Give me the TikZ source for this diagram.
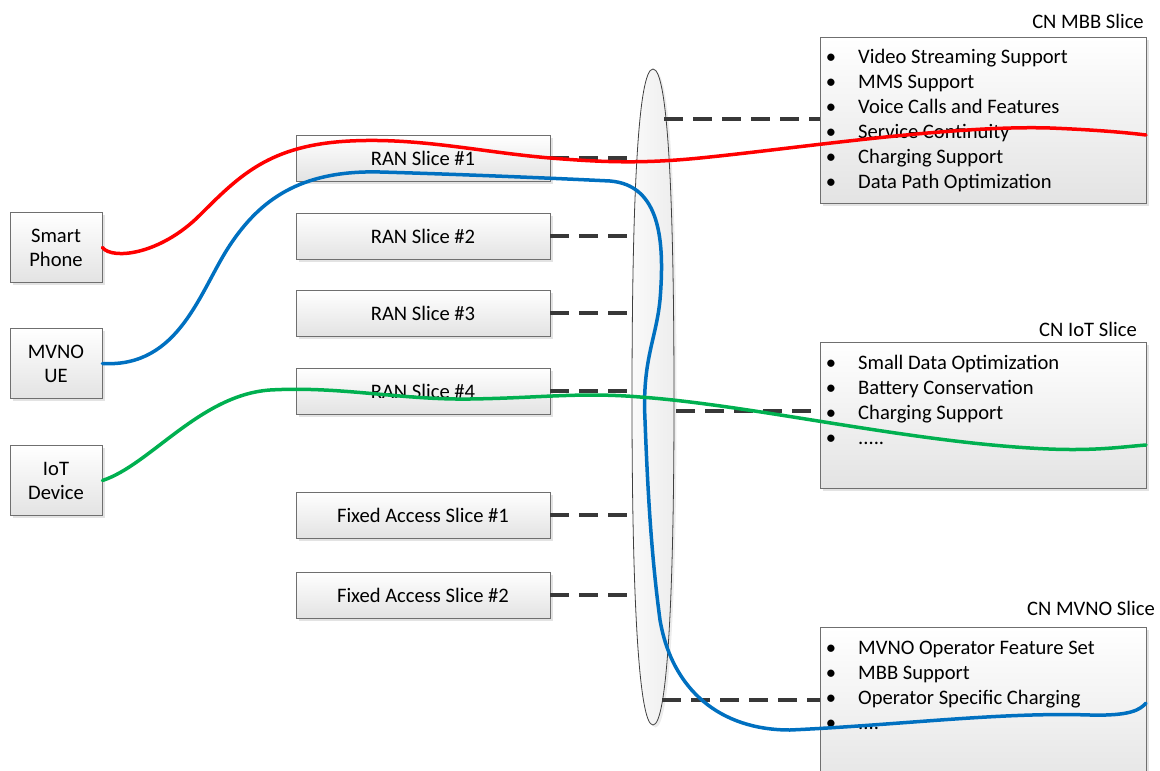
\documentclass[tikz,border=0pt]{standalone}
\usepackage{fontspec}
\setmainfont{Carlito}
\usetikzlibrary{shadows}
\definecolor{myred}{HTML}{FF0000}
\definecolor{myblue}{HTML}{0070C0}
\definecolor{mygreen}{HTML}{00B050}
\definecolor{dashgray}{HTML}{383838}
\definecolor{boxline}{HTML}{6F6F6F}
\newcommand\fivedots{.....}
\newcommand\fourdots{....}
\begin{document}
\begin{tikzpicture}[x=1pt,y=-1pt,font=\fontsize{20.6}{24}\selectfont,
  box/.style={draw=boxline,line width=0.9pt,top color=white,bottom color=gray!22,
    drop shadow={opacity=0.22,shadow xshift=2.5pt,shadow yshift=-2.5pt},
    inner sep=0pt,align=center},
  devbox/.style={box,minimum width=92pt,minimum height=70pt},
  slicebox/.style={box,minimum width=254pt,minimum height=46pt},
  cnbox/.style={box,minimum width=326pt,anchor=north west},
  link/.style={draw=dashgray,line width=3.1pt,dash pattern=on 19pt off 10pt},
  flow/.style={line width=3.5pt,line cap=round},
  item/.style={anchor=base west,inner sep=0pt},
  bul/.style={anchor=base,inner sep=0pt},
  lbl/.style={inner sep=0pt}]
\useasboundingbox (0,0) rectangle (1160,771);

% devices
\node[devbox] (sp) at (56,247.5) {Smart\\Phone};
\node[devbox] (ue) at (56,363.5) {MVNO\\UE};
\node[devbox] (iot) at (56,480.5) {IoT\\Device};

% access slices
\node[slicebox] (r1) at (423,158) {RAN Slice \#1};
\node[slicebox] (r2) at (423,236) {RAN Slice \#2};
\node[slicebox] (r3) at (423,313) {RAN Slice \#3};
\node[slicebox] (r4) at (423,391) {RAN Slice \#4};
\node[slicebox] (f1) at (423,515) {Fixed Access Slice \#1};
\node[slicebox] (f2) at (423,595) {Fixed Access Slice \#2};

% core slices
\node[cnbox,minimum height=166pt] (mbb) at (820,37) {};
\node[cnbox,minimum height=146pt] (ciot) at (820,342) {};
\node[cnbox,minimum height=170pt] (mvno) at (820,627) {};
\node[lbl] (mbbl) at (1088,21) {CN MBB Slice};
\node[lbl] (iotl) at (1088,329) {CN IoT Slice};
\node[lbl] (mvnol) at (1091,608) {CN MVNO Slice};

\foreach \t [count=\i] in {Video Streaming Support,MMS Support,Voice Calls and Features,Service Continuity,Charging Support,Data Path Optimization}{
  \node[bul] (mbbb\i) at (831,{56+25*(\i-1)+7}) {•};
  \node[item] (mbbt\i) at (858,{56+25*(\i-1)+7}) {\t};
}
\foreach \t [count=\i] in {Small Data Optimization,Battery Conservation,Charging Support,\fivedots}{
  \node[bul] (iotb\i) at (831,{362+25*(\i-1)+7}) {•};
  \node[item] (iott\i) at (858,{362+25*(\i-1)+7}) {\t};
}
\foreach \t [count=\i] in {MVNO Operator Feature Set,MBB Support,Operator Specific Charging,\fourdots}{
  \node[bul] (mvnob\i) at (831,{647+25*(\i-1)+7}) {•};
  \node[item] (mvnot\i) at (858,{647+25*(\i-1)+7}) {\t};
}

% transport ellipse
\fill[gray!25,opacity=0.6] (655.5,71.5) .. controls (670.5,71.5) and (676.5,202) .. (676.5,402)
  .. controls (676.5,602) and (669.5,727.5) .. (655.5,727.5)
  .. controls (641.5,727.5) and (634.5,602) .. (634.5,402)
  .. controls (634.5,202) and (640.5,71.5) .. (655.5,71.5) -- cycle;
\draw[draw=black!75,line width=0.8pt,left color=gray!4,right color=gray!14]
  (653,69) .. controls (668,69) and (674,200) .. (674,400)
  .. controls (674,600) and (667,725) .. (653,725)
  .. controls (639,725) and (632,600) .. (632,400)
  .. controls (632,200) and (638,69) .. (653,69) -- cycle;

% attachment points on the ellipse
\coordinate (e1) at (633,158);
\coordinate (e2) at (633,236);
\coordinate (e3) at (632,313);
\coordinate (e4) at (632,391);
\coordinate (e5) at (632,515);
\coordinate (e6) at (633,595);
\coordinate (g1) at (664,119);
\coordinate (g2) at (676,411);
\coordinate (g3) at (662,700);

\draw[link] (r1.east) -- (e1);
\draw[link] (r2.east) -- (e2);
\draw[link] (r3.east) -- (e3);
\draw[link] (r4.east) -- (e4);
\draw[link] (f1.east) -- (e5);
\draw[link] (f2.east) -- (e6);
\draw[link] (g1) -- (mbb.west |- g1);
\draw[link] (g2) -- (ciot.west |- g2);
\draw[link] (g3) -- (mvno.west |- g3);

% flows
\coordinate (redend) at (1146,135);
\coordinate (greenend) at (1146,445);
\coordinate (blueend) at (1146,703);

\draw[flow,myred] (sp.east) .. controls (112,260) and (160,255) .. (200,215)
  .. controls (240,175) and (270,145) .. (350,141)
  .. controls (420,137.5) and (480,152) .. (550,158)
  .. controls (600,162) and (640,164) .. (700,158)
  .. controls (800,148) and (950,125) .. (1050,128)
  .. controls (1100,130) and (1130,133) .. (redend);

\draw[flow,myblue] (ue.east) .. controls (180,368) and (200,290) .. (230,245)
  .. controls (260,200) and (300,170) .. (380,172)
  .. controls (450,174) and (550,178) .. (610,181)
  .. controls (660,185) and (665,240) .. (660,300)
  .. controls (656,340) and (642,360) .. (645,420)
  .. controls (648,500) and (652,560) .. (660,620)
  .. controls (672,690) and (720,730) .. (790,730)
  .. controls (900,725) and (1000,712) .. (1090,715)
  .. controls (1130,716) and (1140,710) .. (blueend);

\draw[flow,mygreen] (iot.east) .. controls (150,465) and (200,395) .. (270,390)
  .. controls (340,386) and (400,400) .. (470,399)
  .. controls (540,398) and (580,392) .. (640,397)
  .. controls (750,405) and (900,440) .. (1030,448)
  .. controls (1090,452) and (1120,447) .. (greenend);
\end{tikzpicture}
\end{document}
